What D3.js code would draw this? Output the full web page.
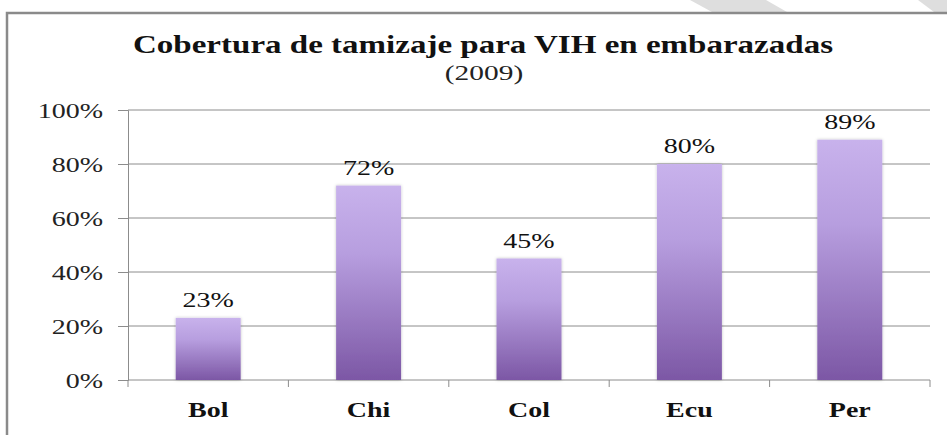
<!DOCTYPE html>
<html>
<head>
<meta charset="utf-8">
<script src="https://cdn.jsdelivr.net/npm/d3@7"></script>
<style>
  body { margin: 0; background: #fff; }
  svg { display: block; }
  .tick-label { font-family: "Liberation Serif", serif; font-size: 20px; fill: #222; }
  .cat-label { font-family: "Liberation Serif", serif; font-size: 20px; font-weight: bold; fill: #111; }
  .val-label { font-family: "Liberation Serif", serif; font-size: 20px; fill: #111; }
</style>
</head>
<body>
<div id="chart"></div>
<script>
const categories = ['Bol', 'Chi', 'Col', 'Ecu', 'Per'];
const coverage = [23, 72, 45, 80, 89];
const yTicks = [0, 20, 40, 60, 80, 100];
const titleText = 'Cobertura de tamizaje para VIH en embarazadas';
const subtitleText = '(2009)';

const width = 947, height = 435;
const margin = { top: 110, right: 17, bottom: 55, left: 128 };
const stretch = 1.4; // the original text looks horizontally stretched

const svg = d3.select('#chart').append('svg')
  .attr('width', width)
  .attr('height', height);

const defs = svg.append('defs');
const grad = defs.append('linearGradient')
  .attr('id', 'barGrad')
  .attr('x1', 0).attr('y1', 0).attr('x2', 0).attr('y2', 1);
grad.append('stop').attr('offset', '0%').attr('stop-color', '#c8b2ec');
grad.append('stop').attr('offset', '35%').attr('stop-color', '#b79edf');
grad.append('stop').attr('offset', '100%').attr('stop-color', '#7c57a5');

const shadow = defs.append('filter').attr('id', 'barShadow')
  .attr('x', '-20%').attr('y', '-10%').attr('width', '140%').attr('height', '120%');
shadow.append('feDropShadow')
  .attr('dx', 0).attr('dy', 0).attr('stdDeviation', 1.5)
  .attr('flood-color', '#000').attr('flood-opacity', 0.25);

// decorative slide stripes at top
svg.append('polygon')
  .attr('points', '690,0 766,0 787,12 712,12')
  .attr('fill', '#dedede');
svg.append('polygon')
  .attr('points', '918,0 947,0 947,12 934,12')
  .attr('fill', '#dedede');

// frame
svg.append('path')
  .attr('d', `M7,${height} V13 H${width}`)
  .attr('fill', 'none')
  .attr('stroke', '#8a8a8a')
  .attr('stroke-width', 2.5);

const plotW = width - margin.left - margin.right;
const plotH = height - margin.top - margin.bottom;

const x = d3.scaleBand()
  .domain(categories)
  .range([margin.left, margin.left + plotW])
  .paddingInner(0.595)
  .paddingOuter(0.2975);

const y = d3.scaleLinear()
  .domain([0, 100])
  .range([margin.top + plotH, margin.top]);

// helper: place stretched text at (px, py)
function stretched(sel, px, py) {
  sel.attr('x', 0).attr('y', 0)
    .attr('transform', (d, i) => `translate(${px(d, i)},${py(d, i)}) scale(${stretch},1)`);
}

// gridlines
svg.append('g')
  .selectAll('line')
  .data(yTicks.filter(t => t > 0))
  .join('line')
  .attr('x1', margin.left)
  .attr('x2', margin.left + plotW)
  .attr('y1', d => y(d))
  .attr('y2', d => y(d))
  .attr('stroke', '#8c8c8c')
  .attr('stroke-width', 1);

// y axis
const yAxis = svg.append('g')
  .attr('transform', `translate(${margin.left},0)`)
  .call(d3.axisLeft(y).tickValues(yTicks).tickSize(10).tickFormat(d => d + '%'));
yAxis.select('.domain').attr('stroke', '#8c8c8c');
yAxis.selectAll('.tick line').attr('stroke', '#8c8c8c');
yAxis.selectAll('.tick text')
  .attr('class', 'tick-label')
  .attr('fill', null)
  .attr('dy', null)
  .attr('dominant-baseline', null)
  .call(stretched, () => -25, () => 7);

// x axis with ticks at category boundaries
const xAxisG = svg.append('g')
  .attr('transform', `translate(0,${margin.top + plotH})`);
xAxisG.append('line')
  .attr('x1', margin.left).attr('x2', margin.left + plotW)
  .attr('stroke', '#8c8c8c');
const step = x.step();
xAxisG.selectAll('.bound')
  .data(d3.range(categories.length + 1))
  .join('line')
  .attr('class', 'bound')
  .attr('x1', i => margin.left + i * step)
  .attr('x2', i => margin.left + i * step)
  .attr('y1', 0).attr('y2', 7)
  .attr('stroke', '#8c8c8c');
xAxisG.selectAll('.cat-label')
  .data(categories)
  .join('text')
  .attr('class', 'cat-label')
  .attr('text-anchor', 'middle')
  .text(d => d)
  .call(stretched, d => x(d) + x.bandwidth() / 2, () => 37);

const data = categories.map((c, i) => ({ cat: c, val: coverage[i] }));

// bars
svg.append('g')
  .selectAll('rect')
  .data(data)
  .join('rect')
  .attr('x', d => x(d.cat))
  .attr('y', d => y(d.val))
  .attr('width', x.bandwidth())
  .attr('height', d => y(0) - y(d.val))
  .attr('fill', 'url(#barGrad)')
  .attr('filter', 'url(#barShadow)');

// value labels
svg.append('g')
  .selectAll('text')
  .data(data)
  .join('text')
  .attr('class', 'val-label')
  .attr('text-anchor', 'middle')
  .text(d => d.val + '%')
  .call(stretched, d => x(d.cat) + x.bandwidth() / 2, d => y(d.val) - 11);

// title
svg.append('text')
  .attr('x', 483)
  .attr('y', 53)
  .attr('text-anchor', 'middle')
  .attr('textLength', 700)
  .attr('lengthAdjust', 'spacingAndGlyphs')
  .style('font-family', '"Liberation Serif", serif')
  .style('font-weight', 'bold')
  .style('font-size', '26px')
  .attr('fill', '#111')
  .text(titleText);

svg.append('text')
  .attr('text-anchor', 'middle')
  .style('font-family', '"Liberation Serif", serif')
  .style('font-size', '21px')
  .attr('fill', '#222')
  .text(subtitleText)
  .call(stretched, () => 484, () => 80);
</script>
</body>
</html>
